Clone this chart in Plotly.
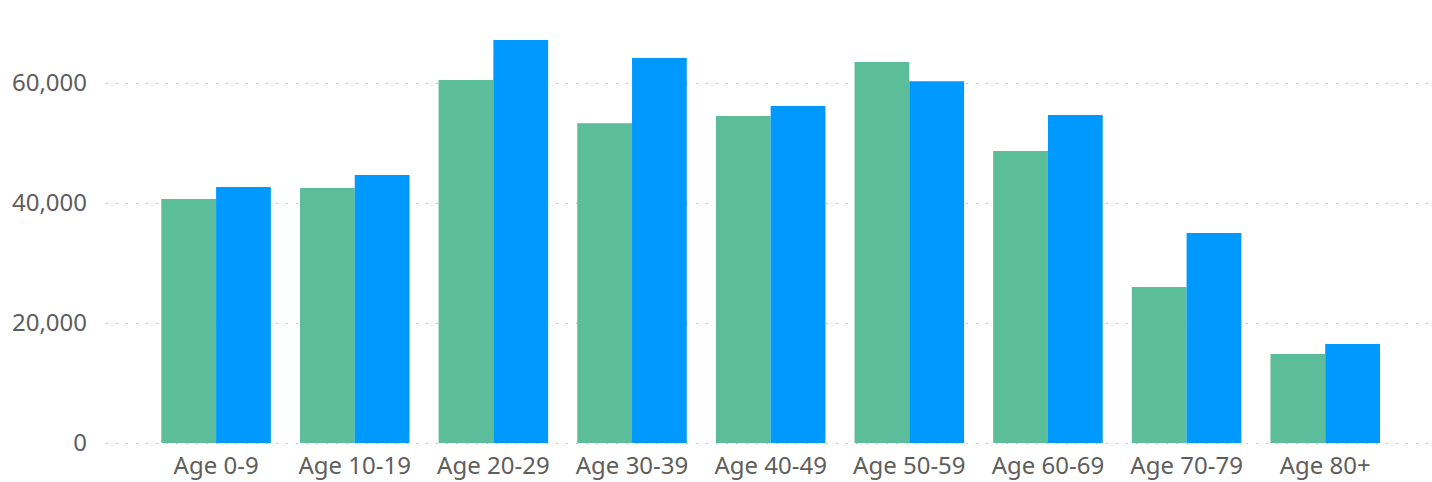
import plotly.graph_objects as go

categories = ["Age 0-9", "Age 10-19", "Age 20-29", "Age 30-39", "Age 40-49",
              "Age 50-59", "Age 60-69", "Age 70-79", "Age 80+"]
series_a = [40650, 42500, 60500, 53300, 54500, 63500, 48650, 26000, 14850]
series_b = [42650, 44650, 67150, 64150, 56150, 60300, 54650, 35000, 16500]
y_ticks = [0, 20000, 40000, 60000]
y_tick_labels = ["0", "20,000", "40,000", "60,000"]

FONT = "Noto Sans, Open Sans, sans-serif"

fig = go.Figure()
fig.add_trace(go.Bar(x=categories, y=series_a, name="A", marker_color="#5BBD9A",
                     marker_line_width=0))
fig.add_trace(go.Bar(x=categories, y=series_b, name="B", marker_color="#0099FF",
                     marker_line_width=0))

fig.update_layout(
    width=1432, height=482,
    margin=dict(l=106, r=0, t=20, b=36, autoexpand=False),
    paper_bgcolor="white", plot_bgcolor="white",
    barmode="group", bargap=0.21, bargroupgap=0,
    showlegend=False,
    font=dict(family=FONT, size=24, color="#605E5C"),
)
fig.update_xaxes(
    range=[-0.794, 8.77], showgrid=False, zeroline=False, showline=False,
    ticks="", tickfont=dict(size=24, color="#605E5C"), ticklabelstandoff=3,
    automargin=False,
)
fig.update_yaxes(
    range=[-500, 70500], tickvals=y_ticks, ticktext=y_tick_labels,
    showgrid=True, gridcolor="#C8C8C8", gridwidth=1, griddash="2px,8px",
    zeroline=False, showline=False, ticks="",
    tickfont=dict(size=24, color="#605E5C"), ticklabelstandoff=18,
    automargin=False,
)
fig.write_html(
    "out.html",
    config={"displayModeBar": False},
    post_script="document.body.style.margin='0';document.body.style.overflow='hidden';",
)
